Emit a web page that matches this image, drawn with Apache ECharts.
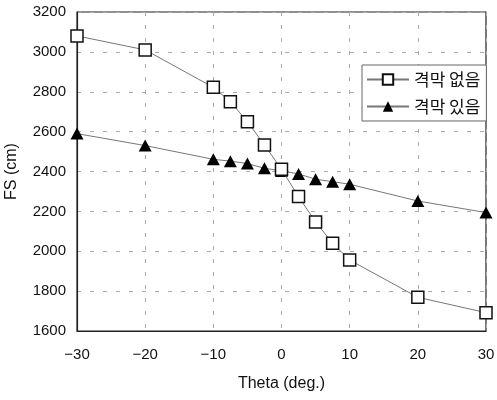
<!DOCTYPE html>
<html>
<head>
<meta charset="utf-8">
<script src="https://cdn.jsdelivr.net/npm/echarts@6/dist/echarts.min.js"></script>
<style>
  html, body { margin: 0; padding: 0; background: #fff; }
  #chart { width: 497px; height: 400px; }
</style>
</head>
<body>
<div id="chart"></div>
<script>
// theta (deg.)
var theta = [-30, -20, -10, -7.5, -5, -2.5, 0, 2.5, 5, 7.5, 10, 20, 30]
// FS (cm), no septum / with septum
var fsNone = [3080, 3010, 2822, 2750, 2650, 2533, 2411, 2274, 2147, 2040, 1956, 1769, 1692]
var fsWith = [2590, 2530, 2461, 2452, 2440, 2416, 2403, 2388, 2361, 2349, 2336, 2252, 2194]
var seriesNames = ['격막 없음', '격막 있음']

var labelFont = 'Liberation Sans'
var chart = echarts.init(document.getElementById('chart'))

function pairs(ys) {
  return theta.map(function (t, i) { return [t, ys[i]] })
}

chart.setOption({
  animation: false,
  backgroundColor: '#fff',
  grid: {
    left: 77,
    right: 11,
    top: 12,
    bottom: 69,
    outerBoundsMode: 'none',
    show: true,
    borderColor: '#222',
    borderWidth: 1.2
  },
  legend: {
    orient: 'vertical',
    left: 362,
    top: 65,
    itemWidth: 42,
    itemHeight: 13,
    itemGap: 10,
    padding: [6, 6, 6, 4],
    backgroundColor: '#fff',
    borderColor: '#666',
    borderWidth: 1,
    textStyle: {
      fontFamily: 'Noto Sans CJK KR',
      fontSize: 17,
      color: '#111'
    },
    data: seriesNames
  },
  xAxis: {
    type: 'value',
    min: -30,
    max: 30,
    interval: 10,
    name: 'Theta (deg.)',
    nameLocation: 'middle',
    nameGap: 45,
    nameTextStyle: { fontFamily: labelFont, fontSize: 16, color: '#111' },
    axisLine: { show: true, onZero: false, lineStyle: { color: '#222', width: 1.2 } },
    axisTick: { show: false },
    axisLabel: {
      margin: 16,
      fontFamily: labelFont,
      fontSize: 15,
      color: '#111',
      formatter: function (v) { return String(v).replace('-', '\u2212') }
    },
    splitLine: { show: true, lineStyle: { color: '#aaa', type: [4, 9], width: 1 } }
  },
  yAxis: {
    type: 'value',
    min: 1600,
    max: 3200,
    interval: 200,
    name: 'FS (cm)',
    nameLocation: 'middle',
    nameGap: 57,
    nameRotate: 90,
    nameTextStyle: { fontFamily: labelFont, fontSize: 16, color: '#111' },
    axisLine: { show: true, onZero: false, lineStyle: { color: '#222', width: 1.2 } },
    axisTick: { show: false },
    axisLabel: {
      margin: 11,
      fontFamily: labelFont,
      fontSize: 15,
      color: '#111',
      formatter: function (v) { return String(v) }
    },
    splitLine: { show: true, lineStyle: { color: '#aaa', type: [4, 9], width: 1 } }
  },
  series: [
    {
      name: seriesNames[0],
      type: 'line',
      data: pairs(fsNone),
      symbol: 'rect',
      symbolSize: 12,
      lineStyle: { color: '#777', width: 1 },
      itemStyle: { color: '#fff', borderColor: '#111', borderWidth: 1.5 },
      z: 3
    },
    {
      name: seriesNames[1],
      type: 'line',
      data: pairs(fsWith),
      symbol: 'triangle',
      symbolSize: [13, 12],
      lineStyle: { color: '#777', width: 1 },
      itemStyle: { color: '#000', borderColor: '#000', borderWidth: 0 },
      z: 2
    }
  ]
})
</script>
</body>
</html>
